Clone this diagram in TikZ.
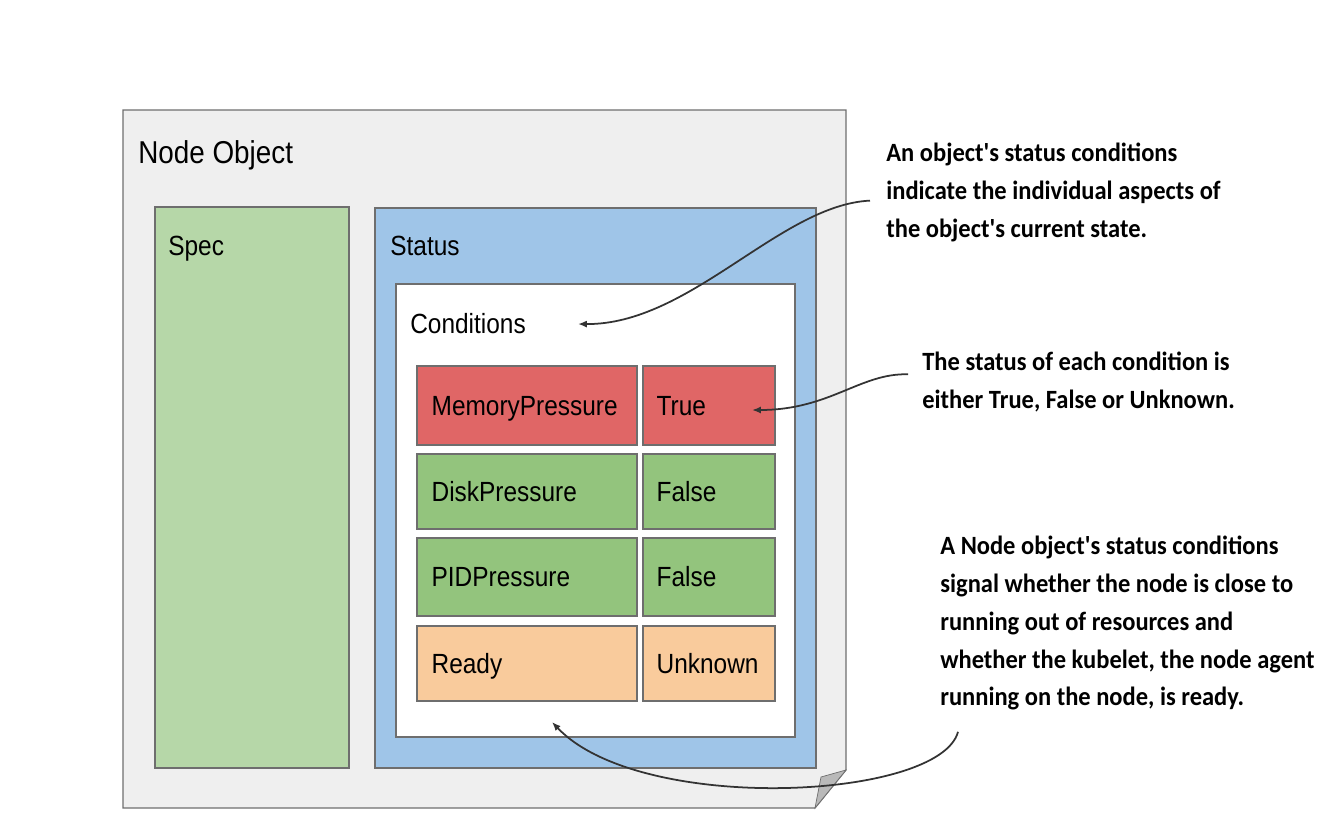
\documentclass[tikz,border=0pt]{standalone}
\usepackage{fontspec}
\setmainfont{Liberation Sans}[FakeStretch=0.88]
\newfontfamily\notefont{Carlito}[FakeStretch=0.93]
\usetikzlibrary{arrows.meta, positioning, fit}

\definecolor{ObjGray}{HTML}{EFEFEF}
\definecolor{SpecGreen}{HTML}{B6D7A8}
\definecolor{StatusBlue}{HTML}{9FC5E8}
\definecolor{CondRed}{HTML}{E06666}
\definecolor{CondGreen}{HTML}{93C47D}
\definecolor{CondOrange}{HTML}{F9CB9C}
\definecolor{EdgeGray}{HTML}{6E6E6E}
\definecolor{LineDark}{HTML}{333333}

\tikzset{
  box/.style={draw=EdgeGray, line width=0.7pt, inner sep=0pt},
  cell/.style={box, line width=0.8pt},
  lbl/.style={anchor=west, inner sep=0pt, text height=11.3pt, text depth=0pt,
              text=black, font=\fontsize{15.8}{19}\selectfont},
  note/.style={anchor=north west, inner sep=0pt, align=left,
               font=\notefont\bfseries\fontsize{15}{21.5}\selectfont},
  callout/.style={draw=LineDark, line width=1pt, -{Latex[length=5pt,width=4pt]}}
}

\begin{document}
\begin{tikzpicture}[x=0.02cm, y=-0.02cm]
  \useasboundingbox (0,0) rectangle (1343,836);

  % Node object with folded corner
  \draw[fill=ObjGray, draw=EdgeGray, line width=0.7pt]
    (123,110) -- (846,110) -- (846,770) -- (815,808) -- (123,808) -- cycle;
  \fill[gray!55, draw=EdgeGray, line width=0.4pt] (815,808) -- (821,777) -- (846,770) -- cycle;
  \node[lbl, text height=12.8pt, font=\fontsize{18}{22}\selectfont] (obj) at (138,152) {Node Object};

  % Spec and status
  \node[box, fill=SpecGreen, fit={(155,207) (349,768)}] (spec) {};
  \node[lbl] (specl) at (168,246) {Spec};
  \node[box, fill=StatusBlue, fit={(375,208) (816,768)}] (status) {};
  \node[lbl] (statusl) at (390,246) {Status};

  % Conditions table
  \node[box, fill=white, fit={(396,284) (795,737)}] (cond) {};
  \node[lbl] (condl) at (410,324) {Conditions};
  \foreach \n/\key/\val/\col/\top/\bot in {
      mem/MemoryPressure/True/CondRed/366/445,
      disk/DiskPressure/False/CondGreen/454/529,
      pid/PIDPressure/False/CondGreen/538/616,
      ready/Ready/Unknown/CondOrange/626/701} {
    \node[cell, fill=\col, fit={(417,\top) (637,\bot)}] (\n) {};
    \node[cell, fill=\col, fit={(643,\top) (775,\bot)}] (\n v) {};
    \node[lbl, right=15*0.02cm of \n.west, anchor=west] (\n t) {\key};
    \node[lbl, right=14*0.02cm of \n v.west, anchor=west] (\n vt) {\val};
  }

  % Notes
  \node[note] (noteA) at (886,143) {An object's status conditions\\indicate the individual aspects of\\the object's current state.};
  \node[note] (noteB) at (922,352) {The status of each condition is\\either True, False or Unknown.};
  \node[note] (noteC) at (940,536) {A Node object's status conditions\\signal whether the node is close to\\running out of resources and\\whether the kubelet, the node agent\\running on the node, is ready.};

  \coordinate (tipA) at (578,324);
  \coordinate (tipB) at (752,410);
  \coordinate (tipC) at (552,722);
  \draw[callout] ([shift={(-16,8)}]noteA.west) .. controls (780,205) and (690,325) .. (tipA);
  \draw[callout] ([shift={(-14,-8)}]noteB.west) .. controls (860,373) and (830,410) .. (tipB);
  \draw[callout] ([shift={(18,21)}]noteC.south west) .. controls (940,800) and (640,815) .. (tipC);
\end{tikzpicture}
\end{document}
